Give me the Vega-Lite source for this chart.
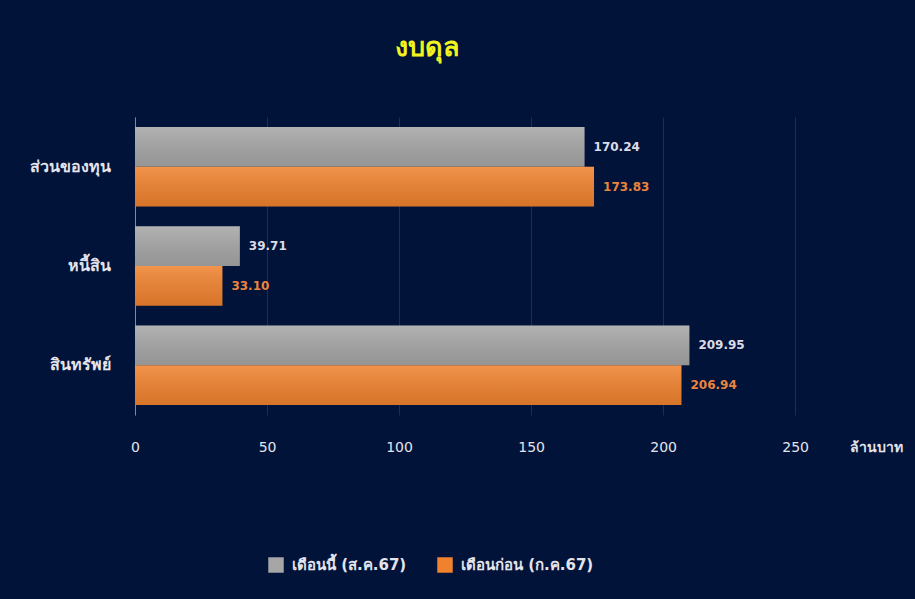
{
  "$schema": "https://vega.github.io/schema/vega-lite/v6.json",
  "autosize": {"type": "none"},
  "padding": {"left": 135, "top": 117, "right": 1, "bottom": 184},
  "width": 779,
  "height": 298,
  "background": "#011339",
  "title": {
    "text": "งบดุล",
    "color": "#f2f21e",
    "fontSize": 27,
    "fontWeight": "bold",
    "font": "Tahoma, DejaVu Sans, Noto Sans, sans-serif",
    "anchor": "middle",
    "frame": "group",
    "dx": -97,
    "offset": 55
  },
  "config": {
    "view": {"stroke": null},
    "font": "Tahoma, DejaVu Sans, Noto Sans, sans-serif"
  },
  "data": {
    "values": [
      {"item": "ส่วนของทุน", "series": "เดือนนี้ (ส.ค.67)", "value": 170.24},
      {"item": "ส่วนของทุน", "series": "เดือนก่อน (ก.ค.67)", "value": 173.83},
      {"item": "หนี้สิน", "series": "เดือนนี้ (ส.ค.67)", "value": 39.71},
      {"item": "หนี้สิน", "series": "เดือนก่อน (ก.ค.67)", "value": 33.10},
      {"item": "สินทรัพย์", "series": "เดือนนี้ (ส.ค.67)", "value": 209.95},
      {"item": "สินทรัพย์", "series": "เดือนก่อน (ก.ค.67)", "value": 206.94}
    ]
  },
  "encoding": {
    "y": {
      "field": "item",
      "type": "nominal",
      "sort": ["ส่วนของทุน", "หนี้สิน", "สินทรัพย์"],
      "scale": {"paddingInner": 0.2, "paddingOuter": 0.1},
      "axis": {
        "title": null,
        "ticks": false,
        "domain": true,
        "domainColor": "#7b89a8",
        "domainWidth": 1,
        "labelColor": "#e4e4ec",
        "labelFontSize": 16,
        "labelFontWeight": "bold",
        "labelPadding": 25,
        "grid": false
      }
    },
    "yOffset": {
      "field": "series",
      "type": "nominal",
      "sort": ["เดือนนี้ (ส.ค.67)", "เดือนก่อน (ก.ค.67)"]
    },
    "x": {
      "field": "value",
      "type": "quantitative",
      "scale": {"domain": [0, 295], "nice": false},
      "axis": {
        "values": [0, 50, 100, 150, 200, 250],
        "domain": false,
        "ticks": false,
        "grid": true,
        "gridColor": "#1d2d56",
        "gridWidth": 1,
        "labelFlush": false,
        "labelColor": "#e4e4ec",
        "labelFontSize": 14,
        "labelPadding": 25,
        "title": "ล้านบาท",
        "titleColor": "#e4e4ec",
        "titleFontSize": 14,
        "titleFontWeight": "bold",
        "titleX": 741,
        "titleY": 25,
        "titleAlign": "center",
        "titleBaseline": "top"
      }
    }
  },
  "layer": [
    {
      "mark": {"type": "bar"},
      "encoding": {
        "color": {
          "field": "series",
          "type": "nominal",
          "sort": ["เดือนนี้ (ส.ค.67)", "เดือนก่อน (ก.ค.67)"],
          "scale": {"range": ["#a6a6a6", "#f0822e"]},
          "legend": {
            "title": null,
            "orient": "none",
            "direction": "horizontal",
            "legendX": 133,
            "legendY": 440,
            "symbolType": "square",
            "symbolSize": 240,
            "symbolStrokeWidth": 0,
            "labelColor": "#e4e4ec",
            "labelFontSize": 15,
            "labelFontWeight": "bold",
            "columnPadding": 30,
            "labelOffset": 8
          }
        }
      }
    },
    {
      "mark": {
        "type": "bar",
        "color": {
          "gradient": "linear",
          "x1": 0, "y1": 0, "x2": 0, "y2": 1,
          "stops": [
            {"offset": 0, "color": "rgba(255,255,255,0.14)"},
            {"offset": 1, "color": "rgba(0,0,0,0.10)"}
          ]
        }
      },
      "encoding": {}
    },
    {
      "mark": {"type": "text", "align": "left", "dx": 9, "fontSize": 12, "fontWeight": "bold"},
      "encoding": {
        "text": {"field": "value", "type": "quantitative", "format": ".2f"},
        "color": {
          "condition": {"test": "datum.series === 'เดือนนี้ (ส.ค.67)'", "value": "#dcdce6"},
          "value": "#ea843e"
        }
      }
    }
  ]
}
